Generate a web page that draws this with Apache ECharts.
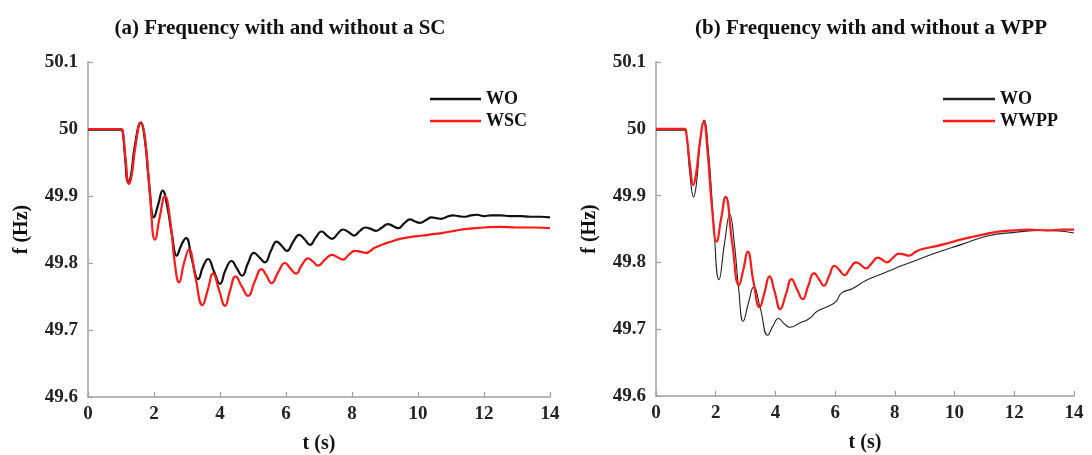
<!DOCTYPE html>
<html><head><meta charset="utf-8">
<script src="https://cdn.jsdelivr.net/npm/echarts@6/dist/echarts.min.js"></script>
<style>html,body{margin:0;padding:0;background:#fff}#c{width:1092px;height:455px}</style>
</head><body><div id="c"></div>
<script>
// ---- data (a) ----
const woA_t = [0,0.5,1.0,1.05,1.12,1.22,1.3,1.42,1.6,1.72,1.85,2.0,2.13,2.26,2.4,2.55,2.69,2.83,2.97,3.15,3.34,3.49,3.64,3.82,4.0,4.17,4.35,4.51,4.67,4.85,5.03,5.2,5.36,5.54,5.72,5.88,6.03,6.22,6.4,6.57,6.73,6.9,7.08,7.24,7.4,7.57,7.73,7.9,8.06,8.24,8.41,8.57,8.73,8.91,9.09,9.25,9.4,9.58,9.76,9.91,10.06,10.24,10.41,10.56,10.7,10.88,11.06,11.23,11.4,11.6,11.8,12.0,12.2,12.5,12.8,13.1,13.4,13.7,14.0];
const woA_f = [49.999,49.999,49.999,49.997,49.96,49.921,49.93,49.975,50.009,49.985,49.92,49.868,49.888,49.908,49.885,49.84,49.811,49.827,49.837,49.805,49.776,49.795,49.806,49.787,49.769,49.79,49.803,49.792,49.781,49.8,49.815,49.808,49.801,49.818,49.832,49.825,49.818,49.832,49.842,49.835,49.827,49.838,49.847,49.841,49.836,49.844,49.85,49.846,49.841,49.848,49.853,49.851,49.848,49.853,49.858,49.855,49.852,49.859,49.865,49.862,49.86,49.864,49.868,49.867,49.866,49.869,49.871,49.87,49.869,49.871,49.872,49.87,49.871,49.871,49.87,49.87,49.869,49.869,49.868];
const scA_t = [0,1.0,1.05,1.14,1.24,1.32,1.44,1.6,1.73,1.88,2.03,2.18,2.33,2.5,2.63,2.76,2.91,3.06,3.25,3.47,3.63,3.79,3.97,4.15,4.31,4.47,4.66,4.85,5.05,5.26,5.41,5.56,5.76,5.97,6.13,6.3,6.48,6.67,6.82,6.97,7.18,7.39,7.55,7.72,7.9,8.09,8.25,8.4,8.7,8.94,9.2,9.45,9.8,10.15,10.45,10.76,11.1,11.47,12.0,12.48,13.0,13.5,14.0];
const scA_f = [50.0,50.0,49.998,49.955,49.918,49.93,49.975,50.01,49.985,49.9,49.835,49.87,49.9,49.86,49.8,49.771,49.8,49.82,49.78,49.737,49.76,49.784,49.76,49.736,49.76,49.78,49.765,49.751,49.772,49.791,49.781,49.77,49.786,49.8,49.792,49.784,49.797,49.807,49.802,49.796,49.805,49.812,49.809,49.805,49.812,49.818,49.817,49.815,49.823,49.828,49.832,49.836,49.839,49.841,49.843,49.845,49.848,49.851,49.853,49.854,49.853,49.853,49.852];
// ---- data (b) ----
const woB_t = [0,0.5,0.96,1.02,1.14,1.26,1.36,1.48,1.61,1.75,1.93,2.11,2.3,2.47,2.62,2.77,2.92,3.1,3.27,3.5,3.74,3.92,4.1,4.3,4.49,4.8,5.14,5.4,5.81,6.04,6.21,6.59,7.03,7.58,8.0,8.47,9.36,10.24,11.13,12.01,12.9,13.5,14.0];
const woB_f = [49.998,49.998,49.998,49.99,49.93,49.898,49.92,49.98,50.013,49.97,49.86,49.774,49.83,49.872,49.83,49.76,49.712,49.74,49.763,49.73,49.691,49.705,49.716,49.708,49.703,49.709,49.716,49.727,49.735,49.742,49.754,49.761,49.773,49.783,49.791,49.799,49.814,49.827,49.84,49.845,49.848,49.847,49.844];
const wpB_t = [0,0.96,1.02,1.14,1.25,1.35,1.47,1.6,1.72,1.88,2.03,2.18,2.33,2.55,2.78,2.93,3.07,3.27,3.47,3.64,3.8,3.98,4.16,4.35,4.54,4.72,4.91,5.1,5.29,5.47,5.62,5.8,5.98,6.15,6.31,6.5,6.7,6.87,7.03,7.23,7.42,7.58,7.73,7.94,8.14,8.3,8.47,8.7,8.92,9.35,9.8,10.2,10.57,11.0,11.46,12.0,12.45,13.1,13.6,14.0];
const wpB_f = [50.0,50.0,49.992,49.945,49.916,49.935,49.98,50.01,49.97,49.88,49.831,49.865,49.898,49.83,49.766,49.79,49.816,49.77,49.733,49.756,49.779,49.755,49.73,49.752,49.775,49.76,49.745,49.765,49.784,49.774,49.765,49.78,49.795,49.788,49.781,49.791,49.8,49.796,49.791,49.799,49.807,49.804,49.8,49.807,49.813,49.812,49.81,49.816,49.82,49.824,49.829,49.834,49.838,49.842,49.846,49.848,49.849,49.848,49.849,49.849];
const xTicks = [0,2,4,6,8,10,12,14];
const yTicks = [49.6,49.7,49.8,49.9,50,50.1];
const titles = ['(a) Frequency with and without a SC','(b) Frequency with and without a WPP'];

const zip = (t,f) => t.map((v,i)=>[v,f[i]]);
const FONT = '"Liberation Serif","Times New Roman",serif';
const axisGray = '#a0a0a0';

function xAxis(gi){
  return {type:'value', gridIndex:gi, min:xTicks[0], max:xTicks[xTicks.length-1], interval:2,
    name:'t (s)', nameLocation:'middle', nameGap:37,
    nameTextStyle:{fontFamily:FONT,fontWeight:'bold',fontSize:20,color:'#111'},
    axisLine:{onZero:false,lineStyle:{color:axisGray,width:1.5}},
    axisTick:{inside:true,length:5,lineStyle:{color:axisGray,width:1.2}},
    axisLabel:{fontFamily:FONT,fontWeight:'bold',fontSize:19,color:'#222',margin:8},
    splitLine:{show:false}};
}
function yAxis(gi){
  return {type:'value', gridIndex:gi, min:yTicks[0], max:yTicks[yTicks.length-1], interval:0.1,
    name:'f (Hz)', nameLocation:'middle', nameGap:56, nameRotate:90,
    nameTextStyle:{fontFamily:FONT,fontWeight:'bold',fontSize:20,color:'#111'},
    axisLine:{show:true,lineStyle:{color:axisGray,width:1.5}},
    axisTick:{show:true,inside:true,length:5,lineStyle:{color:axisGray,width:1.2}},
    axisLabel:{fontFamily:FONT,fontWeight:'bold',fontSize:19,color:'#222',margin:10,
      formatter:v=>String(Math.round(v*10)/10)},
    splitLine:{show:false}};
}
function line(name,data,color,w,gi){
  return {name, type:'line', xAxisIndex:gi, yAxisIndex:gi, data, symbol:'none', smooth:0.5,
    lineStyle:{color,width:w}, itemStyle:{color}, animation:false};
}
const legText = {fontFamily:FONT,fontWeight:'bold',fontSize:18,color:'#111'};
const chart = echarts.init(document.getElementById('c'));
chart.setOption({
  backgroundColor:'#fff',
  animation:false,
  title:[
    {text:titles[0], left:275, top:13, textAlign:'center', textStyle:{fontFamily:FONT,fontWeight:'bold',fontSize:21,color:'#111'}},
    {text:titles[1], left:866, top:13, textAlign:'center', textStyle:{fontFamily:FONT,fontWeight:'bold',fontSize:21,color:'#111'}}
  ],
  legend:[
    {data:[{name:'WO',icon:'rect'},{name:'WSC',icon:'rect'}], left:425, top:85, orient:'vertical',
      itemWidth:51, itemHeight:2.5, itemGap:4, textStyle:legText},
    {data:[{name:'WO ',icon:'rect'},{name:'WWPP',icon:'rect'}], left:938, top:85, orient:'vertical',
      itemWidth:52, itemHeight:2.5, itemGap:4, textStyle:legText, formatter:n=>n.trim()}
  ],
  grid:[
    {left:88, top:62, width:462, height:335, outerBoundsMode:'none', containLabel:false},
    {left:656, top:62, width:418, height:334, outerBoundsMode:'none', containLabel:false}
  ],
  xAxis:[xAxis(0), xAxis(1)],
  yAxis:[yAxis(0), yAxis(1)],
  series:[
    line('WO', zip(woA_t,woA_f), '#111', 2.2, 0),
    line('WSC', zip(scA_t,scA_f), '#ff1a1a', 2.2, 0),
    line('WO ', zip(woB_t,woB_f), '#222', 1.1, 1),
    line('WWPP', zip(wpB_t,wpB_f), '#ff1a1a', 2.2, 1)
  ]
});
</script></body></html>
